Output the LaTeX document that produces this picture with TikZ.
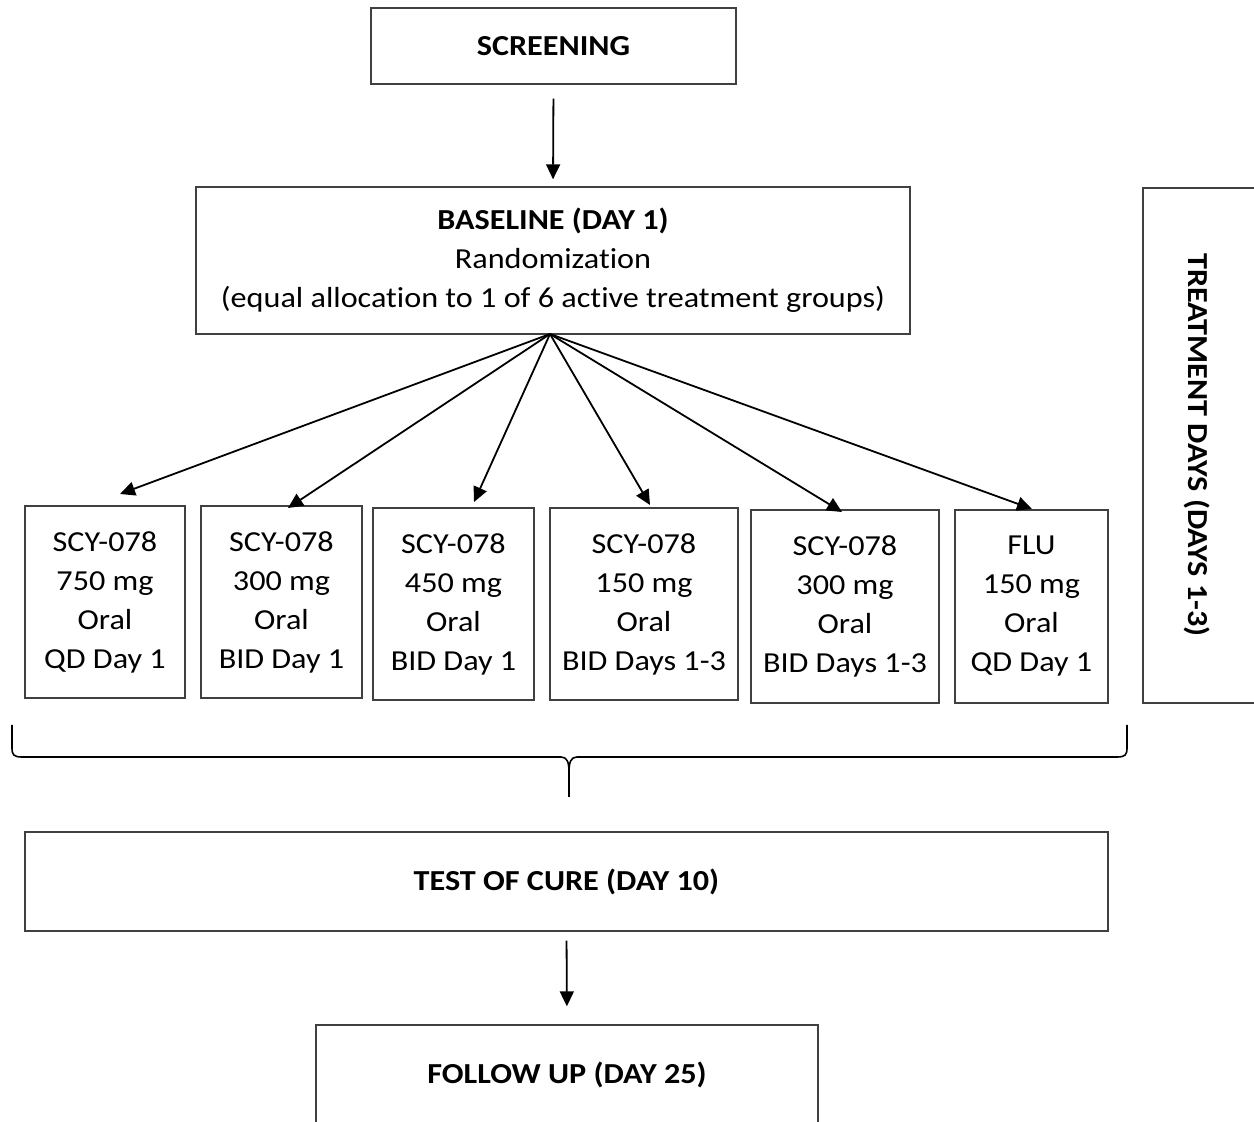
\documentclass[tikz,border=0pt]{standalone}
\usepackage{fontspec}
\setmainfont{Carlito}[FakeStretch=1.11,Ligatures={NoCommon}]
\usetikzlibrary{arrows.meta,calc}
\begin{document}
\begin{tikzpicture}[x=0.5pt,y=-0.5pt,
  box/.style={draw=black!75,line width=0.7pt,rectangle,inner sep=0pt,align=center,
    font=\fontsize{14.5}{19.5}\selectfont},
  tbox/.style={box,minimum height=96pt},
  head/.style={font=\fontsize{14.5}{19.5}\selectfont\bfseries},
  arr/.style={-{Triangle[length=7.5pt,width=7pt]},line width=0.9pt,black}]
\useasboundingbox (0,0) rectangle (1254,1122);
\clip (0,0) rectangle (1254,1122);

\node[box,minimum width=182.5pt,minimum height=38pt,head] (scr) at (553.5,46) {SCREENING};
\node[box,minimum width=357pt,minimum height=73.5pt] (base) at (553,260.5)
  {\textbf{BASELINE (DAY 1)}\\Randomization\\(equal allocation to 1 of 6 active treatment groups)};

\node[tbox,minimum width=80pt] (t1) at (105,602) {SCY-078\\750 mg\\Oral\\QD Day 1};
\node[tbox,minimum width=80.5pt] (t2) at (281.5,602) {SCY-078\\300 mg\\Oral\\BID Day 1};
\node[tbox,minimum width=80.5pt] (t3) at (453.5,604) {SCY-078\\450 mg\\Oral\\BID Day 1};
\node[tbox,minimum width=94pt] (t4) at (644,604) {SCY-078\\150 mg\\Oral\\BID Days 1-3};
\node[tbox,minimum width=94pt,minimum height=96.5pt] (t5) at (845,606.5) {SCY-078\\300 mg\\Oral\\BID Days 1-3};
\node[tbox,minimum width=76.5pt,minimum height=96.5pt] (t6) at (1031.5,606.5) {FLU\\150 mg\\Oral\\QD Day 1};

\node[box,minimum width=63.5pt,minimum height=257.5pt] (tr) at (1206.5,445.5) {};
\node[head,rotate=-90,inner sep=0pt] (trl) at (1197,445) {TREATMENT DAYS (DAYS 1-3)};

\node[box,minimum width=541.5pt,minimum height=49.5pt,head] (toc) at (566.5,881.5) {TEST OF CURE (DAY 10)};
\node[box,minimum width=251pt,minimum height=50pt,head] (fu) at (567,1075) {FOLLOW UP (DAY 25)};

% arrows
\draw[arr,shorten <=7pt,shorten >=3.5pt] (scr.south) -- (base.north);
\coordinate (o) at (550,334);
\coordinate (e1) at (120,494);
\coordinate (e2) at (288,508);
\coordinate (e3) at (474,502);
\coordinate (e4) at (650,505);
\coordinate (e5) at (842,512);
\coordinate (e6) at (1032,509);
\foreach \e in {e1,e2,e3,e4,e5,e6} \draw[arr] (o) -- (\e);
\draw[arr,shorten <=4.5pt,shorten >=9pt] (toc.south) -- (fu.north);

% brace
\draw[black,line width=0.8pt]
  (12,725) -- (12,748) .. controls (12,755) and (14,757) .. (22,757) -- (561,757)
  .. controls (567,757) and (569,762) .. (569,772) -- (569,797);
\draw[black,line width=0.8pt]
  (1127,725) -- (1127,748) .. controls (1127,755) and (1125,757) .. (1117,757) -- (577,757)
  .. controls (571,757) and (569,762) .. (569,772);
\end{tikzpicture}
\end{document}
